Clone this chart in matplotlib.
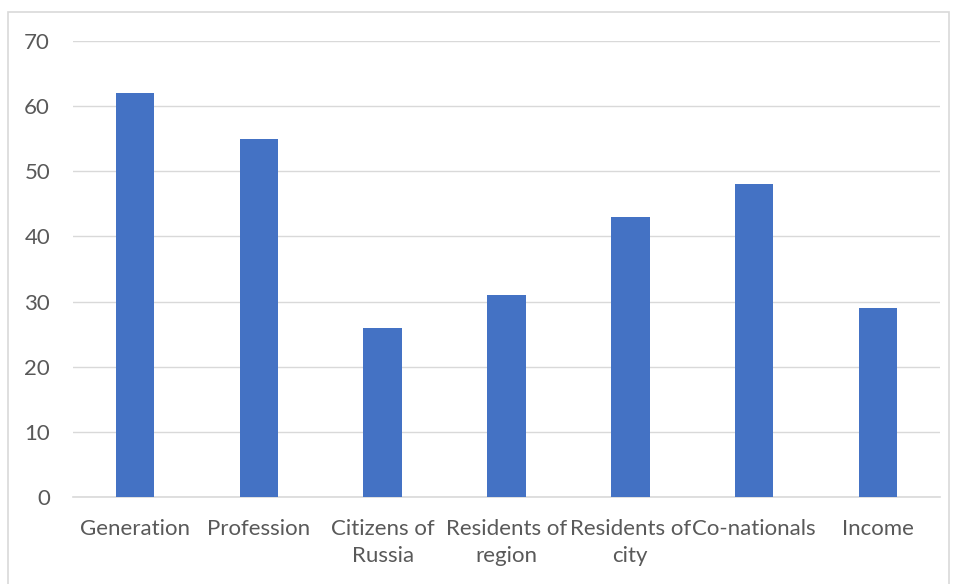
import matplotlib
matplotlib.use("Agg")
import matplotlib.pyplot as plt
from matplotlib.patches import Rectangle

categories = ["Generation", "Profession", "Citizens of\nRussia", "Residents of\nregion",
              "Residents of\ncity", "Co-nationals", "Income"]
values = [62, 55, 26, 31, 43, 48, 29]
yticks = [0, 10, 20, 30, 40, 50, 60, 70]

plt.rcParams['font.family'] = ['Lato', 'DejaVu Sans']

fig = plt.figure(figsize=(9.56, 5.84), dpi=100)
ax = fig.add_axes([73/956, 1-497/584, (940-73)/956, (497-41)/584])

x = range(len(values))
ax.bar(x, values, width=0.31, color='#4472C4', zorder=3)

ax.set_xlim(-0.5, len(values) - 0.5)
ax.set_ylim(0, 70)
ax.set_yticks(yticks)
ax.set_xticks(list(x))
ax.set_xticklabels(categories, fontsize=16, color='#595959', linespacing=1.45)
ax.tick_params(axis='y', labelsize=16, labelcolor='#595959', length=0, pad=16.5)
ax.tick_params(axis='x', length=0, pad=16)
ax.grid(axis='y', color='#D9D9D9', linewidth=1, zorder=0)
for s in ['top', 'right', 'left']:
    ax.spines[s].set_visible(False)
ax.spines['bottom'].set_color('#D9D9D9')
ax.spines['bottom'].set_linewidth(1.2)

# chart border
fig.patches.append(Rectangle((8/956, -0.05), (949-8)/956, 1.05 - 12/584,
                             transform=fig.transFigure, fill=False,
                             edgecolor='#D9D9D9', linewidth=1.2))

fig.savefig("out.png", dpi=100, facecolor='white')
